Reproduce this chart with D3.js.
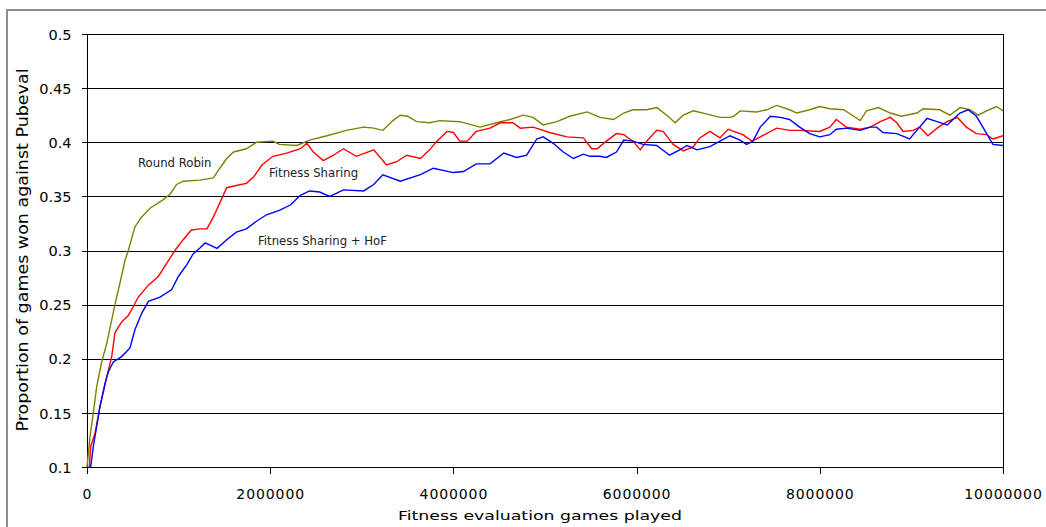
<!DOCTYPE html>
<html>
<head>
<meta charset="utf-8">
<script src="https://cdn.jsdelivr.net/npm/d3@7"></script>
<style>
  html, body { margin: 0; padding: 0; background: #fff; }
  svg { display: block; }
</style>
</head>
<body>
<svg id="chart" width="1046" height="527"></svg>
<script>
// ---- data (games in millions, proportion won) ----
const roundRobin = [
  [0,0.1],[0.033,0.128],[0.069,0.15],[0.105,0.174],[0.16,0.197],[0.215,0.214],[0.27,0.236],[0.305,0.25],
  [0.36,0.27],[0.415,0.291],[0.451,0.30],[0.524,0.322],[0.597,0.331],[0.688,0.339],[0.833,0.347],[0.906,0.352],
  [0.979,0.361],[1.05,0.364],[1.23,0.365],[1.38,0.367],[1.45,0.376],[1.525,0.385],[1.6,0.391],[1.74,0.394],
  [1.85,0.400],[2.03,0.401],[2.1,0.398],[2.29,0.397],[2.43,0.402],[2.62,0.406],[2.83,0.411],[3.02,0.414],
  [3.13,0.413],[3.23,0.411],[3.34,0.42],[3.42,0.425],[3.5,0.424],[3.6,0.419],[3.74,0.418],[3.85,0.42],
  [4.07,0.419],[4.29,0.414],[4.47,0.418],[4.62,0.421],[4.76,0.425],[4.87,0.423],[4.98,0.416],[5.13,0.419],
  [5.27,0.424],[5.46,0.428],[5.6,0.423],[5.75,0.421],[5.86,0.427],[5.96,0.430],[6.11,0.430],[6.22,0.432],
  [6.33,0.425],[6.42,0.418],[6.51,0.425],[6.62,0.429],[6.77,0.426],[6.91,0.423],[7.02,0.423],[7.06,0.424],
  [7.13,0.429],[7.31,0.428],[7.42,0.430],[7.53,0.434],[7.67,0.430],[7.75,0.427],[7.89,0.430],[8.0,0.433],
  [8.11,0.431],[8.26,0.430],[8.37,0.424],[8.44,0.420],[8.51,0.429],[8.64,0.432],[8.77,0.427],[8.89,0.424],
  [9.06,0.427],[9.13,0.431],[9.31,0.430],[9.42,0.425],[9.53,0.432],[9.64,0.430],[9.73,0.425],[9.82,0.429],
  [9.93,0.433],[10,0.429]
];
const fitnessSharing = [
  [0.025,0.1],[0.04,0.119],[0.087,0.131],[0.142,0.156],[0.215,0.183],[0.27,0.202],[0.305,0.224],[0.378,0.234],
  [0.451,0.240],[0.505,0.248],[0.56,0.257],[0.67,0.268],[0.778,0.276],[0.87,0.288],[0.96,0.30],[1.05,0.31],
  [1.14,0.319],[1.23,0.32],[1.31,0.32],[1.38,0.331],[1.45,0.344],[1.525,0.358],[1.63,0.360],[1.74,0.362],
  [1.82,0.368],[1.91,0.379],[2.03,0.387],[2.18,0.39],[2.33,0.394],[2.4,0.399],[2.47,0.391],[2.58,0.383],
  [2.69,0.388],[2.8,0.394],[2.94,0.387],[3.13,0.393],[3.27,0.379],[3.38,0.382],[3.49,0.388],[3.64,0.385],
  [3.74,0.393],[3.82,0.401],[3.93,0.41],[4.0,0.409],[4.07,0.401],[4.15,0.401],[4.25,0.41],[4.4,0.413],
  [4.51,0.418],[4.65,0.418],[4.73,0.413],[4.87,0.414],[5.05,0.409],[5.24,0.405],[5.42,0.404],[5.51,0.394],
  [5.57,0.394],[5.67,0.401],[5.78,0.408],[5.86,0.407],[5.96,0.401],[6.04,0.393],[6.11,0.401],[6.22,0.411],
  [6.29,0.41],[6.4,0.398],[6.51,0.392],[6.62,0.396],[6.69,0.404],[6.8,0.41],[6.91,0.404],[7.0,0.412],
  [7.06,0.41],[7.16,0.407],[7.26,0.401],[7.35,0.405],[7.53,0.413],[7.67,0.411],[7.78,0.411],[8.0,0.41],
  [8.11,0.414],[8.18,0.421],[8.29,0.414],[8.44,0.412],[8.55,0.414],[8.66,0.419],[8.77,0.423],[8.84,0.418],
  [8.91,0.41],[9.02,0.411],[9.09,0.414],[9.18,0.406],[9.28,0.413],[9.39,0.419],[9.5,0.423],[9.6,0.414],
  [9.71,0.408],[9.82,0.407],[9.89,0.403],[10,0.406]
];
const fitnessSharingHoF = [
  [0.04,0.10],[0.069,0.119],[0.105,0.137],[0.142,0.156],[0.196,0.177],[0.233,0.188],[0.287,0.197],[0.378,0.202],
  [0.469,0.21],[0.524,0.227],[0.597,0.242],[0.67,0.253],[0.797,0.257],[0.925,0.264],[0.997,0.276],[1.09,0.287],
  [1.16,0.297],[1.23,0.302],[1.29,0.307],[1.42,0.302],[1.525,0.310],[1.63,0.317],[1.74,0.32],[1.85,0.327],
  [1.96,0.333],[2.1,0.337],[2.22,0.342],[2.33,0.351],[2.43,0.355],[2.54,0.354],[2.65,0.35],[2.8,0.356],
  [3.02,0.355],[3.13,0.361],[3.23,0.37],[3.42,0.364],[3.64,0.37],[3.78,0.376],[4.0,0.372],[4.11,0.373],
  [4.25,0.38],[4.4,0.38],[4.55,0.39],[4.69,0.386],[4.8,0.388],[4.91,0.403],[4.98,0.405],[5.09,0.399],
  [5.2,0.391],[5.31,0.385],[5.42,0.389],[5.49,0.387],[5.6,0.387],[5.67,0.386],[5.78,0.391],[5.86,0.402],
  [5.96,0.401],[6.07,0.398],[6.22,0.397],[6.36,0.388],[6.47,0.393],[6.55,0.397],[6.66,0.393],[6.8,0.396],
  [6.91,0.401],[7.02,0.406],[7.13,0.402],[7.2,0.398],[7.27,0.401],[7.35,0.414],[7.46,0.424],[7.57,0.423],
  [7.67,0.421],[7.78,0.414],[7.89,0.408],[8.0,0.405],[8.11,0.407],[8.18,0.412],[8.29,0.413],[8.44,0.411],
  [8.55,0.414],[8.62,0.414],[8.69,0.409],[8.84,0.408],[8.98,0.403],[9.09,0.414],[9.17,0.422],[9.28,0.419],
  [9.39,0.416],[9.53,0.427],[9.62,0.43],[9.71,0.424],[9.78,0.414],[9.89,0.398],[10,0.397]
];
const seriesNames = ["Round Robin", "Fitness Sharing", "Fitness Sharing + HoF"];
const xTicks = [0, 2000000, 4000000, 6000000, 8000000, 10000000];
const xTickLabels = ["0", "2000000", "4000000", "6000000", "8000000", "10000000"];
const yTicks = [0.1, 0.15, 0.2, 0.25, 0.3, 0.35, 0.4, 0.45, 0.5];
const yTickLabels = ["0.1", "0.15", "0.2", "0.25", "0.3", "0.35", "0.4", "0.45", "0.5"];
const xTitle = "Fitness evaluation games played";
const yTitle = "Proportion of games won against Pubeval";

// ---- layout ----
const svg = d3.select("#chart");
const L = 87, R = 1003, T = 34, B = 467;
const x = d3.scaleLinear().domain([0, 10000000]).range([L, R]);
const y = d3.scaleLinear().domain([0.1, 0.5]).range([B, T]);
const font = "'DejaVu Sans', Verdana, sans-serif";

// outer frame
svg.append("rect").attr("x", 7).attr("y", 10).attr("width", 1100).attr("height", 600)
  .attr("fill", "none").attr("stroke", "#8c8c8c").attr("stroke-width", 2);

// gridlines
svg.append("g").selectAll("line").data(yTicks).join("line")
  .attr("x1", L).attr("x2", R)
  .attr("y1", d => Math.round(y(d)) + 0.5).attr("y2", d => Math.round(y(d)) + 0.5)
  .attr("stroke", "#000").attr("stroke-width", 1).attr("shape-rendering", "crispEdges");

// plot box
svg.append("rect").attr("x", L + 0.5).attr("y", Math.round(T) + 0.5)
  .attr("width", R - L).attr("height", B - T)
  .attr("fill", "none").attr("stroke", "#000").attr("stroke-width", 1).attr("shape-rendering", "crispEdges");

// axes
const xAxis = d3.axisBottom(x).tickValues(xTicks).tickSize(6).tickPadding(0)
  .tickFormat((d, i) => xTickLabels[i]);
const gx = svg.append("g").attr("transform", `translate(0,${B + 0.5})`).call(xAxis);
gx.select(".domain").remove();
gx.selectAll(".tick line").attr("stroke", "#000").attr("shape-rendering", "crispEdges");
gx.selectAll(".tick text").attr("y", 31).attr("dy", 0)
  .style("font-family", font).style("font-size", "14px").style("letter-spacing", "0.9px").attr("fill", "#000");

const yAxis = d3.axisLeft(y).tickValues(yTicks).tickSize(6).tickPadding(10)
  .tickFormat((d, i) => yTickLabels[i]);
const gy = svg.append("g").attr("transform", `translate(${L + 0.5},0)`).call(yAxis);
gy.select(".domain").remove();
gy.selectAll(".tick line").attr("stroke", "#000").attr("shape-rendering", "crispEdges");
gy.selectAll(".tick text").attr("dy", "0.36em")
  .style("font-family", font).style("font-size", "14.5px").attr("fill", "#000");

// titles
svg.append("text").attr("x", 540).attr("y", 520).attr("text-anchor", "middle")
  .attr("textLength", 284).attr("lengthAdjust", "spacingAndGlyphs")
  .style("font-family", font).style("font-size", "13px").attr("fill", "#000").text(xTitle);
svg.append("text").attr("transform", "translate(28,250) rotate(-90)").attr("text-anchor", "middle")
  .attr("textLength", 363).attr("lengthAdjust", "spacingAndGlyphs")
  .style("font-family", font).style("font-size", "15px").attr("fill", "#000").text(yTitle);

// lines
const line = d3.line().x(d => x(d[0] * 1e6)).y(d => y(d[1]));
const series = [
  { data: roundRobin, color: "#808000" },
  { data: fitnessSharing, color: "#ff0000" },
  { data: fitnessSharingHoF, color: "#0000ff" }
];
svg.append("g").selectAll("path").data(series).join("path")
  .attr("d", d => line(d.data)).attr("fill", "none")
  .attr("stroke", d => d.color).attr("stroke-width", 1.4);

// curve labels
const labelPos = [[138, 167], [269, 177], [258, 244.5]];
svg.append("g").selectAll("text").data(seriesNames).join("text")
  .attr("x", (d, i) => labelPos[i][0]).attr("y", (d, i) => labelPos[i][1])
  .style("font-family", font).style("font-size", "11.7px").attr("fill", "#222").text(d => d);
</script>
</body>
</html>
